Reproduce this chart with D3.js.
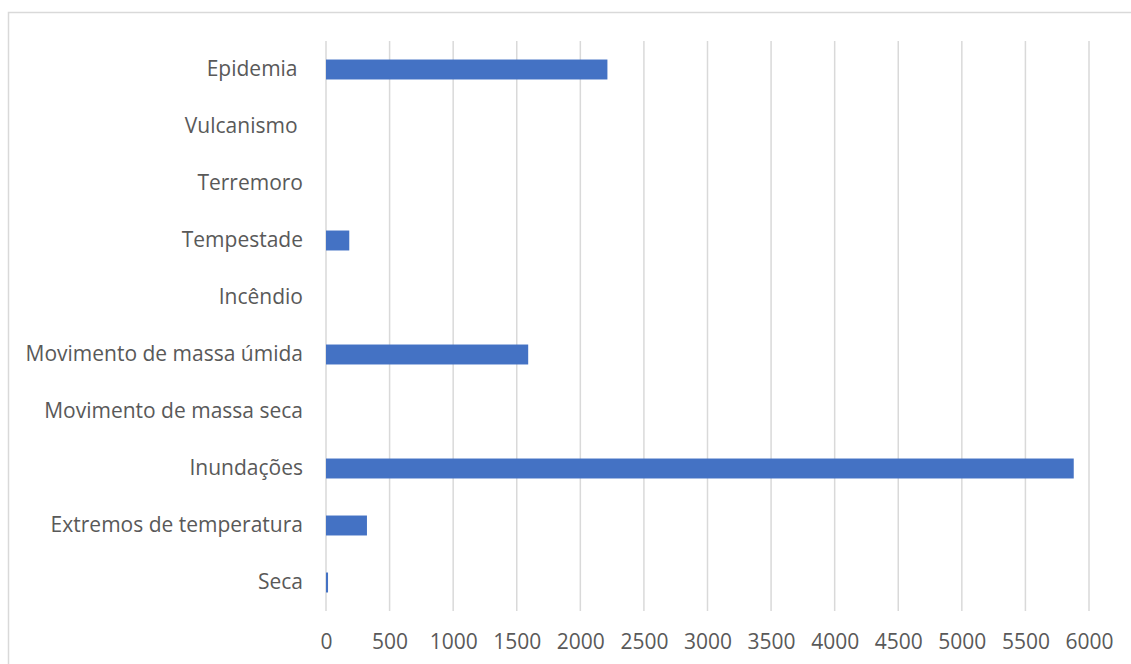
<!DOCTYPE html>
<html>
<head>
<meta charset="utf-8">
<script src="https://cdn.jsdelivr.net/npm/d3@7"></script>
<style>
  html, body { margin: 0; padding: 0; background: #fff; }
  svg { display: block; }
  text { font-family: "Open Sans", sans-serif; fill: #595959; }
</style>
</head>
<body>
<svg id="chart" width="1131" height="664"></svg>
<script>
const categories = [
  "Epidemia ",
  "Vulcanismo ",
  "Terremoro",
  "Tempestade",
  "Incêndio",
  "Movimento de massa úmida",
  "Movimento de massa seca",
  "Inundações",
  "Extremos de temperatura",
  "Seca"
];
const values = [2213, 0, 0, 183, 0, 1590, 0, 5880, 322, 16];
const xTicks = [0, 500, 1000, 1500, 2000, 2500, 3000, 3500, 4000, 4500, 5000, 5500, 6000];

const svg = d3.select("#chart");
const W = 1131, H = 664;
const plot = { left: 326, right: 1089, top: 41, bottom: 611 };

// outer border
svg.append("rect")
  .attr("x", 8.5).attr("y", 12.5)
  .attr("width", W + 10).attr("height", H + 10)
  .attr("fill", "none").attr("stroke", "#d9d9d9").attr("stroke-width", 1.5);

const x = d3.scaleLinear().domain([0, 6000]).range([plot.left, plot.right]);
const y = d3.scaleBand().domain(categories).range([plot.top, plot.bottom]).paddingInner(0.65).paddingOuter(0.325);

// gridlines
svg.append("g").selectAll("line").data(xTicks).join("line")
  .attr("x1", d => x(d)).attr("x2", d => x(d))
  .attr("y1", plot.top).attr("y2", plot.bottom)
  .attr("stroke", "#d9d9d9").attr("stroke-width", 1.5);

// bars
svg.append("g").selectAll("rect").data(categories.map((c, i) => ({ c, v: values[i] })).filter(d => d.v > 0)).join("rect")
  .attr("x", x(0))
  .attr("y", d => y(d.c))
  .attr("width", d => Math.max(1.5, x(d.v) - x(0)))
  .attr("height", y.bandwidth())
  .attr("fill", "#4472c4");

// x axis labels
const xAxis = d3.axisBottom(x).tickValues(xTicks).tickSize(0).tickPadding(0).tickFormat(d3.format("d"));
const gx = svg.append("g").attr("transform", `translate(0, ${plot.bottom + 23})`).call(xAxis);
gx.select(".domain").remove();
gx.selectAll("text").attr("font-size", 21).attr("font-family", "'Open Sans', sans-serif").attr("fill", "#595959").attr("dy", "0.71em");

// y axis labels
const yAxis = d3.axisLeft(y).tickSize(0).tickPadding(0);
const gy = svg.append("g").attr("transform", `translate(${plot.left - 23}, 0)`).call(yAxis);
gy.select(".domain").remove();
gy.selectAll("text").attr("font-size", 21).attr("font-family", "'Open Sans', sans-serif").attr("fill", "#595959")
  .style("white-space", "pre");
</script>
</body>
</html>
